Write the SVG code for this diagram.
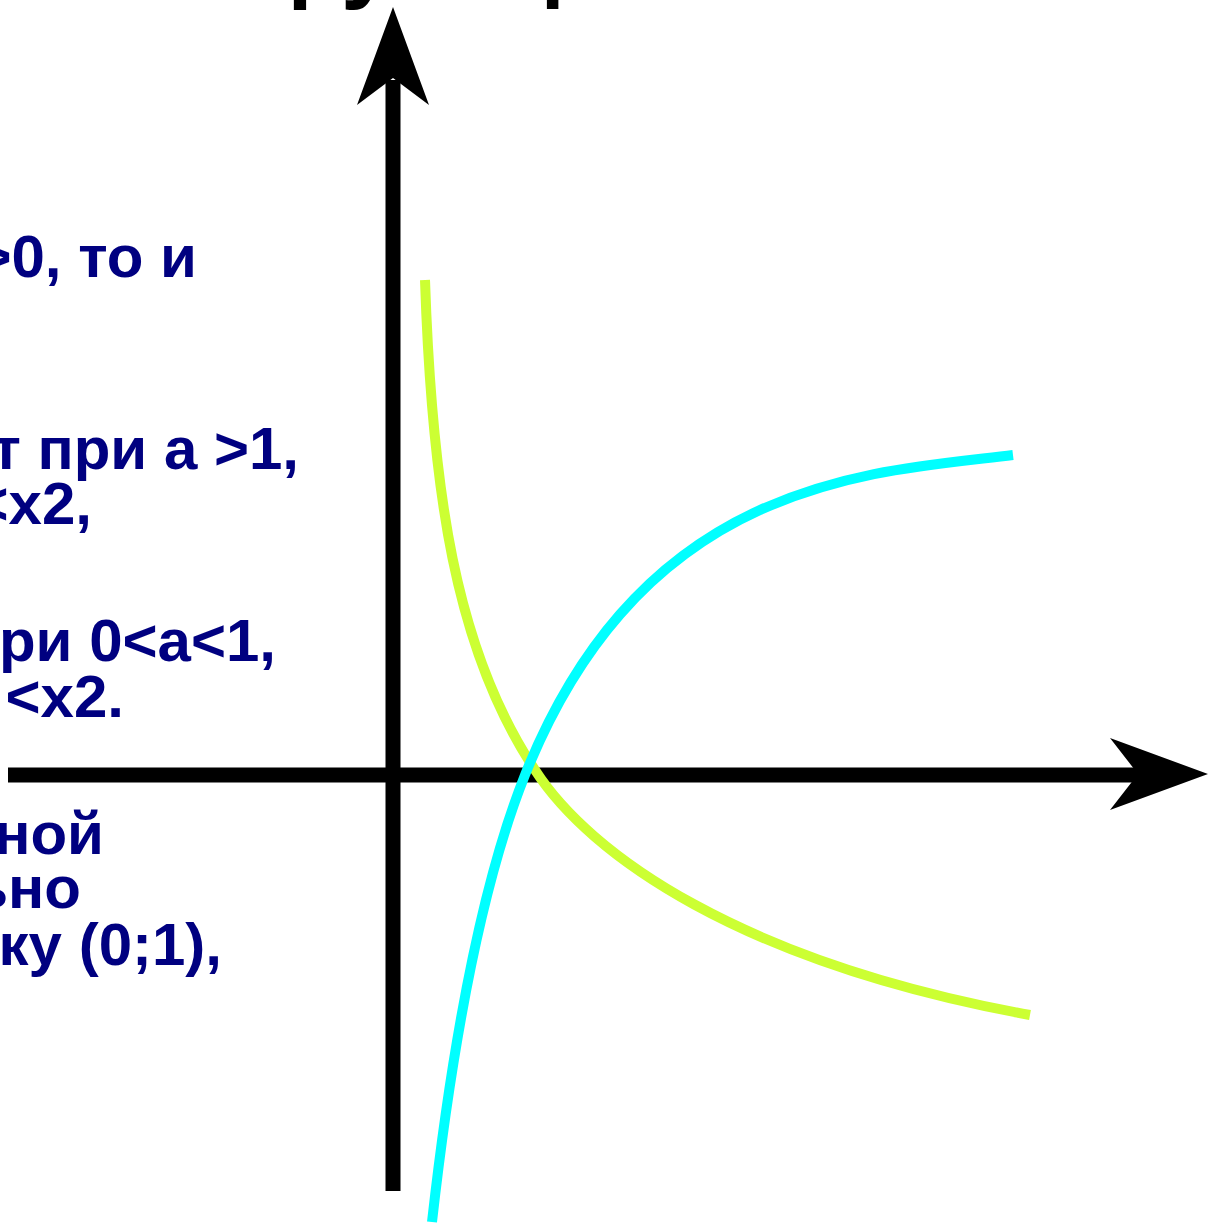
<svg xmlns="http://www.w3.org/2000/svg" width="1209" height="1225" viewBox="0 0 1209 1225">
<style>
.t{font-family:"Liberation Sans",Arial,sans-serif;font-weight:bold;font-size:60px;fill:#000080}
.title{font-family:"Liberation Sans",Arial,sans-serif;font-weight:bold;font-size:96px;fill:#000}
.axis{fill:none;stroke:#000;stroke-width:15}
.head{fill:#000}
.curve{fill:none;stroke-width:10}
</style>
<rect width="1209" height="1225" fill="#fff"/>
<g id="title"><text class="title" x="258" y="-10">функции</text></g>
<g id="texts">
<text class="t" x="197" y="277" text-anchor="end">&gt;0, то и</text>
<text class="t" x="299" y="469" text-anchor="end">т при а &gt;1,</text>
<text class="t" x="92" y="524" text-anchor="end">&lt;x2,</text>
<text class="t" x="276" y="661" text-anchor="end">при 0&lt;а&lt;1,</text>
<text class="t" x="124" y="717" text-anchor="end">&lt;x2.</text>
<text class="t" x="104" y="854" text-anchor="end">ной</text>
<text class="t" x="81" y="908" text-anchor="end">ьно</text>
<text class="t" x="222" y="965" text-anchor="end">ку (0;1),</text>
</g>
<g id="connectors">
<line class="axis" x1="393" y1="1191" x2="393" y2="80"/>
<polygon class="head" points="393,7 429,105 393,78 357,105"/>
<line class="axis" x1="8" y1="775" x2="1140" y2="775"/>
<polygon class="head" points="1208,774 1110,810 1138,774 1110,738"/>
</g>
<g id="curve-green"><path class="curve" stroke="#CCFF33" d="M425,280 C432,490 455,650 535,770 C590,855 740,962 1030,1015"/></g>
<g id="curve-cyan"><path class="curve" stroke="#00FFFF" d="M432,1222 C448,1080 475,900 525,775 C575,650 650,560 760,510 C850,470 930,465 1013,455"/></g>
</svg>
